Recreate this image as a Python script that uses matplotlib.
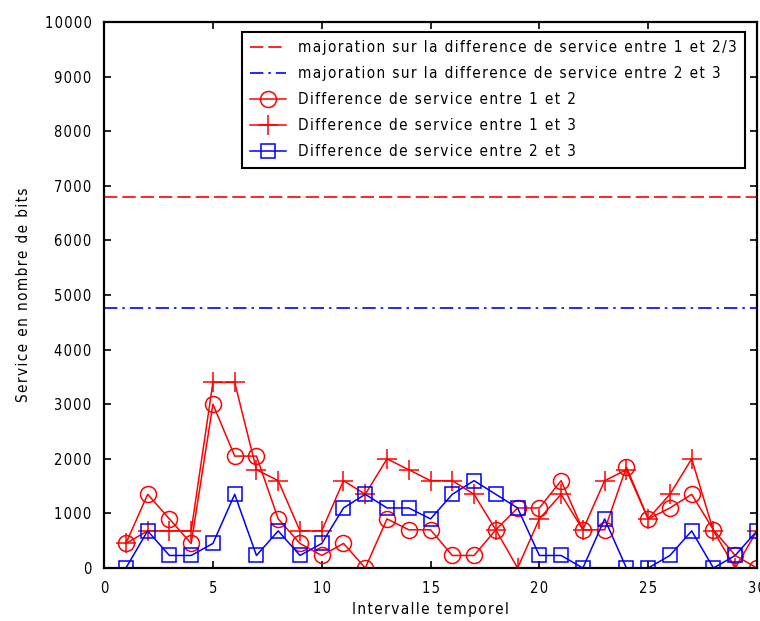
import numpy as np
import matplotlib
matplotlib.use("Agg")
import matplotlib.pyplot as plt

# data
intervalle = np.arange(1, 31)
diff_1_2 = [450, 1350, 900, 450, 3000, 2050, 2050, 900, 450, 230,
            450, 0, 900, 700, 700, 230, 230, 700, 1100, 1100,
            1600, 700, 700, 1850, 900, 1100, 1350, 700, 230, 0]
diff_1_3 = [450, 680, 680, 680, 3400, 3400, 1800, 1600, 680, 680,
            1600, 1350, 2000, 1800, 1600, 1600, 1350, 700, 0, 900,
            1350, 700, 1600, 1800, 900, 1350, 2000, 680, 0, 680]
diff_2_3 = [0, 680, 230, 230, 450, 1350, 230, 680, 230, 450,
            1100, 1350, 1100, 1100, 900, 1350, 1600, 1350, 1100, 230,
            230, 0, 900, 0, 0, 230, 680, 0, 230, 680]
majoration_1_23 = 6800
majoration_2_3 = 4760

labels = ["majoration sur la difference de service entre 1 et 2/3",
          "majoration sur la difference de service entre 2 et 3",
          "Difference de service entre 1 et 2",
          "Difference de service entre 1 et 3",
          "Difference de service entre 2 et 3"]


def spaced(s, gap="\u200a"):
    # the original output has wide letter spacing -> small spaces between letters
    return gap.join(s)


plt.rcParams['font.family'] = ['DejaVu Sans']
plt.rcParams['font.stretch'] = 'condensed'

fig = plt.figure(figsize=(7.6, 6.21), dpi=100)
ax = fig.add_axes([0.137, 0.0853, 0.859, 0.8793])

red = "#ff0000"
blue = "#0000ff"

ax.plot([0, 30], [majoration_1_23] * 2, color=red, linestyle=(0, (8, 3)), linewidth=1.2,
        label=spaced(labels[0]))
ax.plot([0, 30], [majoration_2_3] * 2, color=blue, linestyle=(0, (8, 3, 1.5, 3)), linewidth=1.2,
        label=spaced(labels[1]))
ax.plot(intervalle, diff_1_2, color=red, marker="o", markersize=11.5, markerfacecolor="none",
        markeredgewidth=1.1, linewidth=1.1, label=spaced(labels[2]))
ax.plot(intervalle, diff_1_3, color=red, marker="+", markersize=14, markeredgewidth=1.1,
        linewidth=1.1, label=spaced(labels[3]))
ax.plot(intervalle, diff_2_3, color=blue, marker="s", markersize=10, markerfacecolor="none",
        markeredgewidth=1.1, linewidth=1.1, label=spaced(labels[4]))

ax.set_xlim(0, 30)
ax.set_ylim(0, 10000)
ax.set_xticks(np.arange(0, 31, 5))
ax.set_yticks(np.arange(0, 10001, 1000))
ax.set_xticklabels([spaced(str(v)) for v in range(0, 31, 5)], fontsize=10.5)
ax.set_yticklabels([spaced(str(v)) for v in range(0, 10001, 1000)], fontsize=10.5)
ax.tick_params(direction="in", top=True, right=True, length=5, width=1.2, pad=9)
for sp in ax.spines.values():
    sp.set_linewidth(1.6)

ax.set_xlabel(spaced("Intervalle temporel"), fontsize=11, labelpad=5)
ax.set_ylabel(spaced("Service en nombre de bits"), fontsize=11, labelpad=10)

leg = ax.legend(loc="upper right", bbox_to_anchor=(745 / 760, 1 - 32 / 621),
                bbox_transform=fig.transFigure, fontsize=11, frameon=True, fancybox=False,
                edgecolor="black", framealpha=1, handlelength=2.3, borderpad=0.55,
                labelspacing=0.72, borderaxespad=0)
leg.get_frame().set_linewidth(1.5)

fig.savefig("out.png", dpi=100, facecolor="white")
